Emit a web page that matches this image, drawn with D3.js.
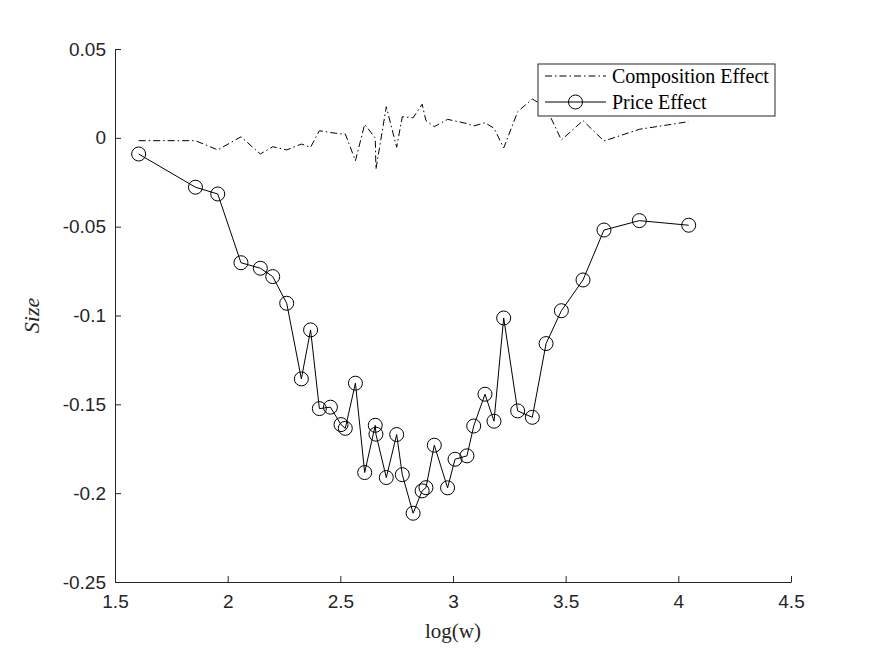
<!DOCTYPE html>
<html>
<head>
	<meta charset="utf-8">
	<title>Composition vs price effect</title>
	<style>
		body { margin: 0; background: #fff; }
	</style>
</head>
<body>
	<script src="https://d3js.org/d3.v7.min.js" charset="utf-8"></script>
	<script>
// log(w) positions, shared by both series
var logW = [1.605, 1.857, 1.956, 2.059, 2.145, 2.200, 2.262, 2.327, 2.368, 2.407,
	2.456, 2.503, 2.522, 2.567, 2.608, 2.655, 2.658, 2.704, 2.750, 2.775,
	2.823, 2.863, 2.880, 2.917, 2.976, 3.009, 3.062, 3.092, 3.142, 3.182,
	3.225, 3.287, 3.352, 3.413, 3.481, 3.577, 3.670, 3.827, 4.046];

var compositionEffect = [-0.0016, -0.0016, -0.0068, 0.0006, -0.0091, -0.0050, -0.0068, -0.0035, -0.0053, 0.0040,
	0.0030, 0.0022, 0.0022, -0.0129, 0.0076, -0.0001, -0.0177, 0.0175, -0.0053, 0.0119,
	0.0113, 0.0189, 0.0097, 0.0063, 0.0104, 0.0095, 0.0080, 0.0067, 0.0085, 0.0054,
	-0.0057, 0.0147, 0.0219, 0.0170, -0.0012, 0.0097, -0.0018, 0.0048, 0.0091];

var priceEffect = [-0.0091, -0.0278, -0.0316, -0.0703, -0.0734, -0.0781, -0.0931, -0.1357, -0.1081, -0.1524,
	-0.1516, -0.1614, -0.1635, -0.1381, -0.1884, -0.1618, -0.1668, -0.1912, -0.1670, -0.1896,
	-0.2113, -0.1987, -0.1969, -0.1730, -0.1970, -0.1809, -0.1790, -0.1622, -0.1443, -0.1595,
	-0.1014, -0.1537, -0.1573, -0.1158, -0.0973, -0.0800, -0.0519, -0.0466, -0.0492];

var xTicks = [1.5, 2, 2.5, 3, 3.5, 4, 4.5];
var yTicks = [-0.25, -0.2, -0.15, -0.1, -0.05, 0, 0.05];
var seriesNames = ['Composition Effect', 'Price Effect'];

var width = 875, height = 656;
var margin = {left: 115, right: 84, top: 49, bottom: 74};
var axisColor = '#262626';

var svg = d3.select('body').append('svg')
			.attr('width', width)
			.attr('height', height)
			.style('background', '#fff');

var x = d3.scaleLinear().domain([1.5, 4.5]).range([margin.left, width - margin.right]);
var y = d3.scaleLinear().domain([-0.25, 0.05]).range([height - margin.bottom, margin.top]);

// plain hyphen minus, like matlab prints it
function plain(d) { return String(+d.toFixed(2)); }

// axes, ticks pointing inward
var xAxis = svg.append('g')
	.attr('transform', 'translate(0,' + (height - margin.bottom) + ')')
	.call(d3.axisBottom(x).tickValues(xTicks).tickSizeInner(-6).tickSizeOuter(0)
		.tickPadding(10).tickFormat(plain));

var yAxis = svg.append('g')
	.attr('transform', 'translate(' + margin.left + ',0)')
	.call(d3.axisLeft(y).tickValues(yTicks).tickSizeInner(-6).tickSizeOuter(0)
		.tickPadding(10).tickFormat(plain));

[xAxis, yAxis].forEach(function(a) {
	a.selectAll('path, line').attr('stroke', axisColor).attr('stroke-width', 1);
	a.selectAll('text')
		.attr('fill', axisColor)
		.style('font-family', '"Liberation Sans", Arial, sans-serif')
		.style('font-size', '19px');
});
xAxis.selectAll('text').attr('dy', '0.85em');
yAxis.selectAll('text').attr('dx', '1');

// axis labels
svg.append('text')
	.attr('x', x(3))
	.attr('y', 638)
	.attr('text-anchor', 'middle')
	.style('font-family', '"Liberation Serif", "Times New Roman", serif')
	.style('font-size', '21px')
	.attr('fill', axisColor)
	.text('log(w)');

svg.append('text')
	.attr('transform', 'translate(39,' + y(-0.1) + ') rotate(-90)')
	.attr('text-anchor', 'middle')
	.style('font-family', '"Liberation Serif", "Times New Roman", serif')
	.style('font-size', '22px')
	.style('font-style', 'italic')
	.attr('fill', axisColor)
	.text('Size');

// series
var line = d3.line()
	.x(function(d) { return x(d[0]); })
	.y(function(d) { return y(d[1]); });

var compPts = logW.map(function(v, i) { return [v, compositionEffect[i]]; });
var pricePts = logW.map(function(v, i) { return [v, priceEffect[i]]; });

svg.append('path')
	.datum(compPts)
	.attr('d', line)
	.attr('fill', 'none')
	.attr('stroke', '#000')
	.attr('stroke-width', 1)
	.attr('stroke-dasharray', '7,3,1.5,3');

svg.append('path')
	.datum(pricePts)
	.attr('d', line)
	.attr('fill', 'none')
	.attr('stroke', '#000')
	.attr('stroke-width', 1);

svg.selectAll('circle.price')
	.data(pricePts)
	.enter()
	.append('circle')
	.attr('class', 'price')
	.attr('cx', function(d) { return x(d[0]); })
	.attr('cy', function(d) { return y(d[1]); })
	.attr('r', 7)
	.attr('fill', 'none')
	.attr('stroke', '#000')
	.attr('stroke-width', 1);

// legend
var legend = svg.append('g').attr('transform', 'translate(538,64)');
legend.append('rect')
	.attr('width', 237)
	.attr('height', 52)
	.attr('fill', '#fff')
	.attr('stroke', axisColor)
	.attr('stroke-width', 1);

legend.append('line')
	.attr('x1', 7).attr('x2', 68).attr('y1', 12).attr('y2', 12)
	.attr('stroke', '#000')
	.attr('stroke-dasharray', '7,3,1.5,3');
legend.append('line')
	.attr('x1', 7).attr('x2', 68).attr('y1', 38).attr('y2', 38)
	.attr('stroke', '#000');
legend.append('circle')
	.attr('cx', 37.5).attr('cy', 38).attr('r', 7)
	.attr('fill', 'none').attr('stroke', '#000');

legend.selectAll('text.lab')
	.data(seriesNames)
	.enter()
	.append('text')
	.attr('class', 'lab')
	.attr('x', 74)
	.attr('y', function(d, i) { return 12 + i * 26; })
	.attr('dy', '0.33em')
	.style('font-family', '"Liberation Serif", "Times New Roman", serif')
	.style('font-size', '20px')
	.attr('fill', '#000')
	.text(function(d) { return d; });
	</script>
</body>
</html>
